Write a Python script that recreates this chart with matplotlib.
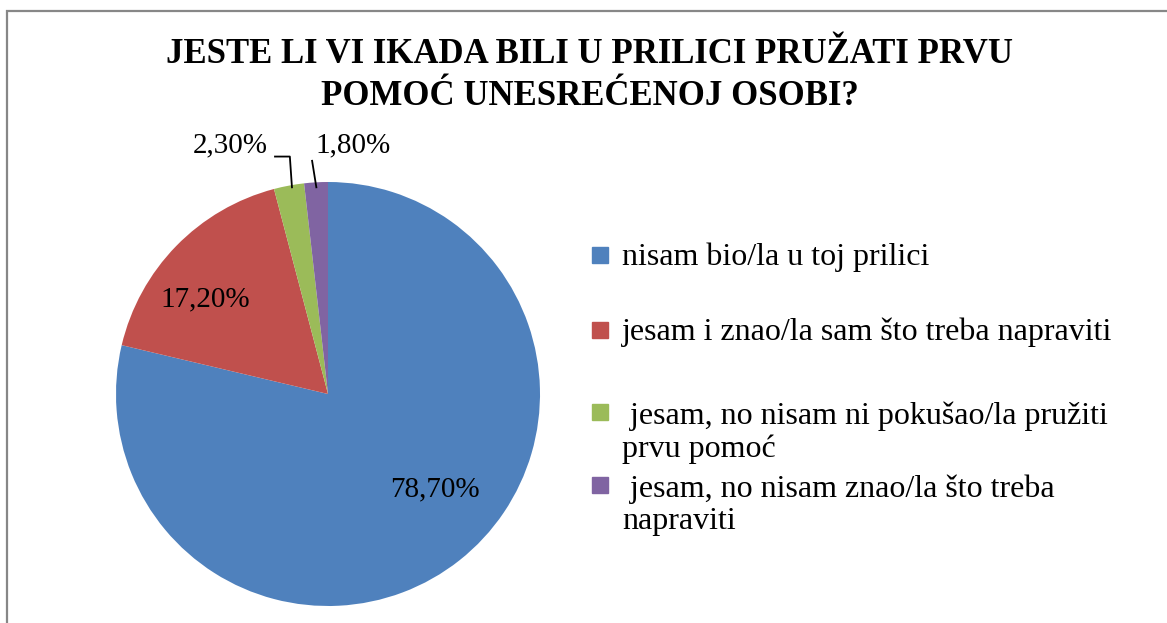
import matplotlib
matplotlib.use("Agg")
from matplotlib import pyplot as plt
from matplotlib.patches import Rectangle

plt.rcParams['font.family'] = ['Liberation Serif', 'DejaVu Serif']

# podaci
categories = [
    "nisam bio/la u toj prilici",
    "jesam i znao/la sam što treba napraviti",
    " jesam, no nisam ni pokušao/la pružiti\nprvu pomoć",
    " jesam, no nisam znao/la što treba\nnapraviti",
]
shares = [78.7, 17.2, 2.3, 1.8]
colors = ["#4F81BD", "#C0504D", "#9BBB59", "#8064A2"]
title = "JESTE LI VI IKADA BILI U PRILICI PRUŽATI PRVU\nPOMOĆ UNESREĆENOJ OSOBI?"

W, H = 1167, 623
fig = plt.figure(figsize=(W / 100, H / 100), dpi=100)

# okvir grafikona
fig.patches.append(Rectangle((6.5 / W, -0.1), 1.2, 1.1 - 11.5 / H,
                             transform=fig.transFigure, fill=False,
                             edgecolor="#878787", linewidth=1.6))

# pita: centar (328, 394), radijus 212 px
cx, cy, r = 328, 394, 212
ax = fig.add_axes([(cx - r) / W, (H - cy - r) / H, 2 * r / W, 2 * r / H])
wedges, _ = ax.pie(shares, colors=colors, startangle=90, counterclock=False,
                   radius=1, wedgeprops=dict(linewidth=0))
ax.set_xlim(-1, 1)
ax.set_ylim(-1, 1)
ax.set_aspect("equal")
ax.axis("off")

def fmt(v):
    return "{:.2f}%".format(v).replace(".", ",")

label_pos = [(0.505, -0.45), (-0.58, 0.445), (-0.46, 1.175), (0.12, 1.175)]
for v, (x, y) in zip(shares, label_pos):
    ax.text(x, y, fmt(v), ha="center", va="center", fontsize=21,
            clip_on=False)

# linije do malih isječaka
ax.plot([-0.25, -0.18, -0.17], [1.12, 1.12, 0.975], color="black",
        lw=1.3, clip_on=False)
ax.plot([-0.075, -0.055], [1.1, 0.975], color="black", lw=1.3, clip_on=False)

# naslov (y je osnovna linija drugog retka)
fig.text(590 / W, 1 - 105 / H, title, ha="center", va="baseline",
         fontsize=25, fontweight="bold", linespacing=1.35)

# legenda: kvadratić uz prvi redak, tekst poravnat po zadnjem retku
leg_first = [265, 340, 422, 495]
leg_last = [265, 340, 457, 529]
for lab, c, y1, y2 in zip(categories, colors, leg_first, leg_last):
    fig.patches.append(Rectangle((592 / W, 1 - (y1 - 2) / H), 16 / W, 16 / H,
                                 transform=fig.transFigure, color=c))
    fig.text(622 / W, 1 - y2 / H, lab, ha="left", va="baseline",
             fontsize=23, linespacing=1.15)

plt.savefig("out.png", dpi=100)
